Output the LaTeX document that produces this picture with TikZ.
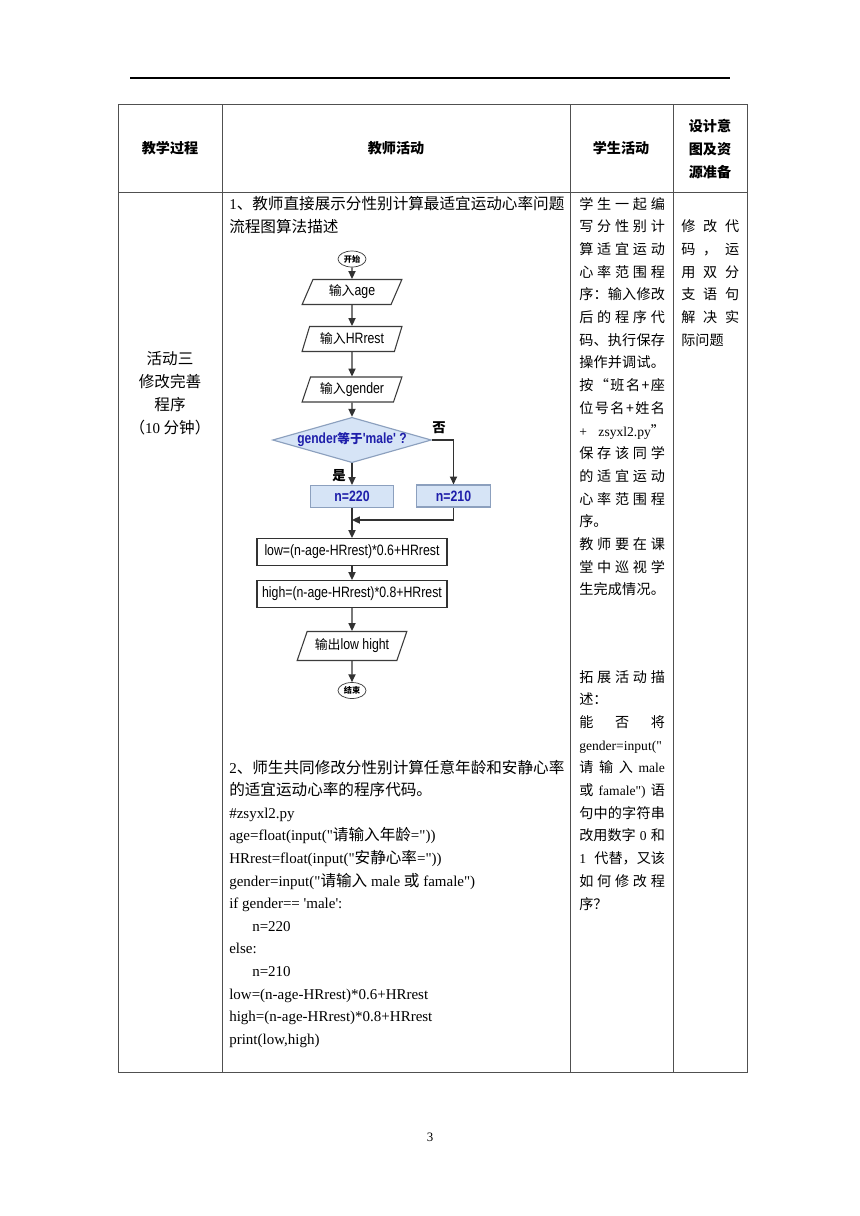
\documentclass[tikz,border=0pt]{standalone}
\usepackage{fontspec}
\usepackage{tikz}
\usetikzlibrary{shapes.geometric,arrows.meta}
\setmainfont{Liberation Serif}
\newfontfamily\timesfont{Liberation Serif}
\newfontfamily\cjk{Noto Sans CJK SC}[Scale=1.04]
\newfontfamily\flowfont{Liberation Sans}[FakeStretch=0.82]
\newfontfamily\flowcjk{Noto Sans CJK SC}[Scale=0.86]
\definecolor{tablegray}{RGB}{80,80,80}
\definecolor{linegray}{RGB}{50,50,50}
\definecolor{boxgray}{RGB}{60,60,60}
\definecolor{decfill}{RGB}{214,228,246}
\definecolor{decborder}{RGB}{140,160,190}
\definecolor{decblue}{RGB}{30,30,170}
\newlength\stuw \setlength\stuw{60pt}
\newlength\desw \setlength\desw{40.6pt}
% spread the characters of one line over a fixed width
\newcommand\spreadline[2]{\makebox[#1][l]{\spreadfirst#2\relax}}
\def\spreadfirst#1{#1\spreadrest}
\def\spreadrest#1{\ifx\relax#1\else\hfill#1\expandafter\spreadrest\fi}

\begin{document}
\begin{tikzpicture}[x=0.7pt, y=-0.7pt,
    tline/.style={draw=tablegray, line width=0.6pt},
    hd/.style={font=\fontsize{9.5}{15.8}\cjk\bfseries, align=center, inner sep=0pt},
    code/.style={anchor=base west, inner sep=0pt, font=\fontsize{10.5}{13}\timesfont},
    stu/.style={anchor=base west, inner sep=0pt, font=\fontsize{9.5}{12}\cjk},
    term/.style={ellipse, draw=boxgray, line width=0.5pt, inner sep=0pt,
      minimum width=19.6pt, minimum height=11.2pt, font=\fontsize{5.5}{6}\cjk\bfseries},
    io/.style={trapezium, trapezium left angle=68, trapezium right angle=112,
      trapezium stretches=true, draw=boxgray, line width=0.75pt, inner sep=1pt,
      minimum width=70pt, minimum height=17.5pt, font=\fontsize{10.5}{12}\flowfont},
    choice/.style={diamond, aspect=3.5, draw=decborder, fill=decfill, line width=0.8pt,
      inner sep=0pt, minimum width=104pt, minimum height=29.4pt, text=decblue,
      font=\fontsize{10.3}{12}\flowfont\bfseries},
    nbox/.style={rectangle, draw=decborder, fill=decfill, line width=0.8pt,
      minimum height=15.4pt, text=decblue, font=\fontsize{10.5}{12}\flowfont\bfseries},
    proc/.style={rectangle, draw=linegray, line width=1pt, inner xsep=1pt,
      minimum width=133pt, minimum height=18.6pt, font=\fontsize{10.5}{12}\flowfont},
    lbl/.style={inner sep=0pt, font=\fontsize{9}{10}\cjk\bfseries},
    arr/.style={draw=linegray, line width=0.9pt, -{Triangle[length=5.5pt,width=5pt]}}]
  \useasboundingbox[fill=white] (0,0) rectangle (860,1216);

  % page rule and table grid
  \draw[black, line width=1pt] (130,78) -- (730,78);
  \draw[tline] (118,104) rectangle (747,1072);
  \draw[tline] (118,192) -- (747,192);
  \draw[tline] (222,104) -- (222,1072);
  \draw[tline] (570,104) -- (570,1072);
  \draw[tline] (673,104) -- (673,1072);

  % header row
  \node[hd] (hproc) at (170,148) {教学过程};
  \node[hd] (hteach) at (396,148) {教师活动};
  \node[hd] (hstud) at (621,148) {学生活动};
  \node[hd] (hdes) at (710,149) {设计意\\图及资\\源准备};

  % first column
  \node[align=center, inner sep=0pt, font=\fontsize{10.5}{16.1}\cjk] (act) at (170,393)
    {活动三\\修改完善\\程序\\（{\rmfamily 10} 分钟）};

  % teacher column
  \node[code] (t1) at (229,209) {1{\cjk 、教师直接展示分性别计算最适宜运动心率问题}};
  \node[code] (t2) at (229,232) {{\cjk 流程图算法描述}};

  % flowchart
  \node[term] (start) at (352,259) {开始};
  \node[io] (inage) at (352,292) {{\flowcjk 输入}age};
  \node[io] (inhr) at (352,339) {{\flowcjk 输入}HRrest};
  \node[io] (ingen) at (352,389.5) {{\flowcjk 输入}gender};
  \node[choice] (dec) at (352,440) {gender{\flowcjk 等于}'male' ?};
  \node[nbox, minimum width=58pt] (n220) at (352,496.5) {n=220};
  \node[nbox, minimum width=51.5pt] (n210) at (453.5,496) {n=210};
  \node[proc] (low) at (352,552) {low=(n-age-HRrest)*0.6+HRrest};
  \node[proc] (high) at (352,594) {high=(n-age-HRrest)*0.8+HRrest};
  \node[io, trapezium left angle=63, trapezium right angle=117,
    minimum width=77pt, minimum height=20.3pt] (out) at (352,646) {{\flowcjk 输出}low hight};
  \node[term] (stop) at (352,690.5) {结束};
  \node[lbl] (no) at (439,428) {否};
  \node[lbl] (yes) at (339,476) {是};
  \coordinate (join) at (352,520);

  \draw[arr] (start) -- (inage);
  \draw[arr] (inage) -- (inhr);
  \draw[arr] (inhr) -- (ingen);
  \draw[arr] (ingen) -- (dec);
  \draw[arr] (dec) -- (n220);
  \draw[arr] (dec.east) -| (n210.north);
  \draw[arr] (n220) -- (low);
  \draw[arr] (n210.south) |- (join);
  \draw[arr] (low) -- (high);
  \draw[arr] (high) -- (out);
  \draw[arr] (out) -- (stop);

  % program code
  \node[code] (c1) at (229,773) {2{\cjk 、师生共同修改分性别计算任意年龄和安静心率}};
  \node[code] (c2) at (229,795.6) {{\cjk 的适宜运动心率的程序代码。}};
  \node[code] (c3) at (229,818.2) {\#zsyxl2.py};
  \node[code] (c4) at (229,840.8) {age=float(input("{\cjk 请输入年龄}="))};
  \node[code] (c5) at (229,863.4) {HRrest=float(input("{\cjk 安静心率}="))};
  \node[code] (c6) at (229,886) {gender=input("{\cjk 请输入} male {\cjk 或} famale")};
  \node[code] (c7) at (229,908.6) {if gender== 'male':};
  \node[code] (c8) at (252,931.2) {n=220};
  \node[code] (c9) at (229,953.8) {else:};
  \node[code] (c10) at (252,976.4) {n=210};
  \node[code] (c11) at (229,999) {low=(n-age-HRrest)*0.6+HRrest};
  \node[code] (c12) at (229,1021.6) {high=(n-age-HRrest)*0.8+HRrest};
  \node[code] (c13) at (229,1044.2) {print(low,high)};

  % student column
  \node[stu] (s1) at (579,209) {\spreadline{\stuw}{学生一起编}};
  \node[stu] (s2) at (579,231.7) {\spreadline{\stuw}{写分性别计}};
  \node[stu] (s3) at (579,254.4) {\spreadline{\stuw}{算适宜运动}};
  \node[stu] (s4) at (579,277.1) {\spreadline{\stuw}{心率范围程}};
  \node[stu] (s5) at (579,299.8) {\spreadline{\stuw}{序：输入修改}};
  \node[stu] (s6) at (579,322.5) {\spreadline{\stuw}{后的程序代}};
  \node[stu] (s7) at (579,345.2) {\spreadline{\stuw}{码、执行保存}};
  \node[stu] (s8) at (579,367.9) {\spreadline{\stuw}{操作并调试。}};
  \node[stu] (s9) at (579,390.6) {\spreadline{\stuw}{按“班名+座}};
  \node[stu] (s10) at (579,413.3) {\spreadline{\stuw}{位号名+姓名}};
  \node[stu] (s11) at (579,436) {\makebox[\stuw][l]{{\timesfont +}\hfill{\timesfont zsyxl2.py}”}};
  \node[stu] (s12) at (579,458.7) {\spreadline{\stuw}{保存该同学}};
  \node[stu] (s13) at (579,481.4) {\spreadline{\stuw}{的适宜运动}};
  \node[stu] (s14) at (579,504.1) {\spreadline{\stuw}{心率范围程}};
  \node[stu] (s15) at (579,526.8) {序。};
  \node[stu] (s16) at (579,549.5) {\spreadline{\stuw}{教师要在课}};
  \node[stu] (s17) at (579,572.2) {\spreadline{\stuw}{堂中巡视学}};
  \node[stu] (s18) at (579,594.9) {\spreadline{\stuw}{生完成情况。}};

  \node[stu] (e1) at (579,682) {\spreadline{\stuw}{拓展活动描}};
  \node[stu] (e2) at (579,704.7) {述：};
  \node[stu] (e3) at (579,727.4) {\spreadline{\stuw}{能否将}};
  \node[stu] (e4) at (579,750.1) {{\timesfont gender=input("}};
  \node[stu] (e5) at (579,772.8) {\makebox[\stuw][l]{请\hfill 输\hfill 入\hfill{\timesfont male}}};
  \node[stu] (e6) at (579,795.5) {\makebox[\stuw][l]{或\hfill{\timesfont famale")}\hfill 语}};
  \node[stu] (e7) at (579,818.2) {\spreadline{\stuw}{句中的字符串}};
  \node[stu] (e8) at (579,840.9) {\makebox[\stuw][l]{改用数字\hfill{\timesfont 0}\hfill 和}};
  \node[stu] (e9) at (579,863.6) {\makebox[\stuw][l]{{\timesfont 1}\hfill 代替，又该}};
  \node[stu] (e10) at (579,886.3) {\spreadline{\stuw}{如何修改程}};
  \node[stu] (e11) at (579,909) {序？};

  % design column
  \node[stu] (d1) at (681,231.7) {\spreadline{\desw}{修改代}};
  \node[stu] (d2) at (681,254.4) {\spreadline{\desw}{码，运}};
  \node[stu] (d3) at (681,277.1) {\spreadline{\desw}{用双分}};
  \node[stu] (d4) at (681,299.8) {\spreadline{\desw}{支语句}};
  \node[stu] (d5) at (681,322.5) {\spreadline{\desw}{解决实}};
  \node[stu] (d6) at (681,345.2) {际问题};

  \node[font=\fontsize{9}{10}\timesfont] (page) at (430,1137) {3};
\end{tikzpicture}
\end{document}
